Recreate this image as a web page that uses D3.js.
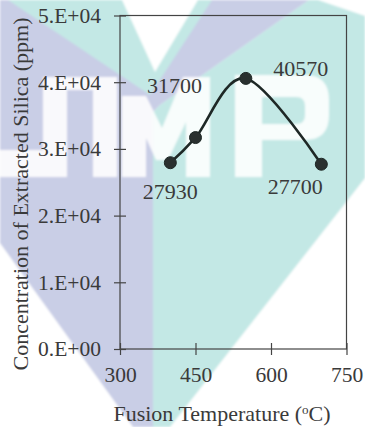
<!DOCTYPE html>
<html>
<head>
<meta charset="utf-8">
<script src="https://cdn.jsdelivr.net/npm/d3@7"></script>
<style>
  html, body { margin: 0; padding: 0; background: #ffffff; }
  svg { display: block; }
  text { font-family: "Liberation Serif", "Times New Roman", serif; }
</style>
</head>
<body>
<svg id="chart" width="365" height="427"></svg>
<script>
// Fusion temperature (°C) and silica extracted at each temperature (ppm)
const temperatures = [400, 450, 550, 700];
const silicaPpm = [27930, 31700, 40570, 27700];

// Axis ticks
const xTickValues = [300, 450, 600, 750];
const yTickValues = [0, 10000, 20000, 30000, 40000, 50000];

const xTitle = "Fusion Temperature (";
const yTitle = "Concentration of Extracted Silica (ppm)";

const W = 365, H = 427;
const plot = { left: 120, right: 346.5, top: 15.5, bottom: 349 };
const ink = "#3a3a3a";
const lineInk = "#1e2826";

const svg = d3.select("#chart");

// soft edge for the background emblem
const defs = svg.append("defs");
defs.append("filter").attr("id", "soft")
  .append("feGaussianBlur").attr("stdDeviation", 0.9);

// ---- background emblem ----
const bg = svg.append("g").attr("filter", "url(#soft)");
const poly = pts => "M" + pts.map(p => p.join(",")).join("L") + "Z";
bg.append("rect").attr("width", W).attr("height", H).attr("fill", "#ffffff");
bg.append("path").attr("fill", "#c9cee6")
  .attr("d", poly([[0,0],[309,0],[160,105],[153,112],[153,427],[133,427],[0,243]]));
bg.append("path").attr("fill", "#c3e8e5")
  .attr("d", poly([[8,0],[212,0],[150,95]]));
bg.append("path").attr("fill", "#ffffff")
  .attr("d", poly([[122,0],[198,0],[155,72]]));
bg.append("path").attr("fill", "#c3e8e5")
  .attr("d", poly([[309,0],[318,0],[365,16],[365,178],[170,427],[153,427],[153,112],[160,105]]));

// block lettering
const letters = bg.append("g").attr("fill", "#ffffff").attr("fill-opacity", 0.88);
letters.append("path").attr("d",
  poly([[43,77],[117,77],[117,177],[93,177],[93,90],[67,90],[67,177],[0,177],[0,150],[43,150]]));
letters.append("path").attr("d",
  poly([[122,96],[146,96],[162,128],[183,77],[210,77],[210,177],[186,177],[186,122],[168,160],[156,160],[146,138],[146,177],[122,177]]));
letters.append("path").attr("fill-rule", "evenodd").attr("d",
  "M235,75L305,75Q329,75 329,100L329,115Q329,140 305,140L262,140L262,177L235,177Z" +
  "M262,97L296,97Q305,97 305,106L305,115Q305,124 296,124L262,124Z");

// ---- scales ----
const x = d3.scaleLinear().domain([300, 750]).range([plot.left, plot.right]);
const y = d3.scaleLinear().domain([0, 50000]).range([plot.bottom, plot.top]);

// scientific labels such as 5.E+04
function sci(v) {
  if (v === 0) return "0.E+00";
  const e = Math.floor(Math.log10(Math.abs(v)));
  const m = Math.round(v / Math.pow(10, e));
  return m + ".E" + (e >= 0 ? "+" : "-") + String(Math.abs(e)).padStart(2, "0");
}

// ---- frame ----
svg.append("rect")
  .attr("x", plot.left).attr("y", plot.top)
  .attr("width", plot.right - plot.left).attr("height", plot.bottom - plot.top)
  .attr("fill", "none").attr("stroke", "#444").attr("stroke-width", 1.2);

// ---- axes ----
const yAxis = svg.append("g").attr("transform", `translate(${plot.left},0)`)
  .call(d3.axisLeft(y).tickValues(yTickValues).tickFormat(sci)
    .tickSizeInner(6).tickSizeOuter(0).tickPadding(13));
yAxis.select(".domain").remove();
yAxis.selectAll(".tick line").attr("x1", 6).attr("stroke", "#444").attr("stroke-width", 1.2);
yAxis.selectAll(".tick text").attr("fill", ink).style("font-size", "21.5px")
  .style("font-family", "'Liberation Serif', 'Times New Roman', serif");

const xAxis = svg.append("g").attr("transform", `translate(0,${plot.bottom})`)
  .call(d3.axisBottom(x).tickValues(xTickValues).tickFormat(d3.format("d"))
    .tickSizeInner(6).tickSizeOuter(0).tickPadding(12));
xAxis.select(".domain").remove();
xAxis.selectAll(".tick line").attr("y1", -6).attr("stroke", "#444").attr("stroke-width", 1.2);
xAxis.selectAll(".tick text").attr("fill", ink).style("font-size", "21.5px")
  .style("font-family", "'Liberation Serif', 'Times New Roman', serif");

// ---- axis titles ----
const xt = svg.append("text")
  .attr("x", 222).attr("y", 421).attr("text-anchor", "middle")
  .attr("fill", ink).style("font-size", "22px");
xt.append("tspan").text(xTitle);
xt.append("tspan").attr("dy", -7).style("font-size", "13px").text("o");
xt.append("tspan").attr("dy", 7).text("C)");

svg.append("text")
  .attr("transform", "translate(28,194) rotate(-90)")
  .attr("text-anchor", "middle").attr("fill", ink)
  .style("font-size", "22px").text(yTitle);

// ---- smoothed series ----
const pts = temperatures.map((t, i) => [t, silicaPpm[i]]);
const line = d3.line()
  .x(d => x(d[0])).y(d => y(d[1]))
  .curve(d3.curveCatmullRom.alpha(0));
svg.append("path").datum(pts)
  .attr("d", line).attr("fill", "none")
  .attr("stroke", lineInk).attr("stroke-width", 2.6);

svg.append("g").selectAll("circle").data(pts).join("circle")
  .attr("cx", d => x(d[0])).attr("cy", d => y(d[1])).attr("r", 6)
  .attr("fill", "#2a302f").attr("stroke", lineInk).attr("stroke-width", 1);

// ---- value labels ----
const labelShift = [[0, 36], [-21, -45], [55, -2], [-26, 30]];
svg.append("g").selectAll("text").data(pts).join("text")
  .attr("x", (d, i) => x(d[0]) + labelShift[i][0])
  .attr("y", (d, i) => y(d[1]) + labelShift[i][1])
  .attr("text-anchor", "middle").attr("fill", ink)
  .style("font-size", "22px")
  .text(d => d[1]);
</script>
</body>
</html>
